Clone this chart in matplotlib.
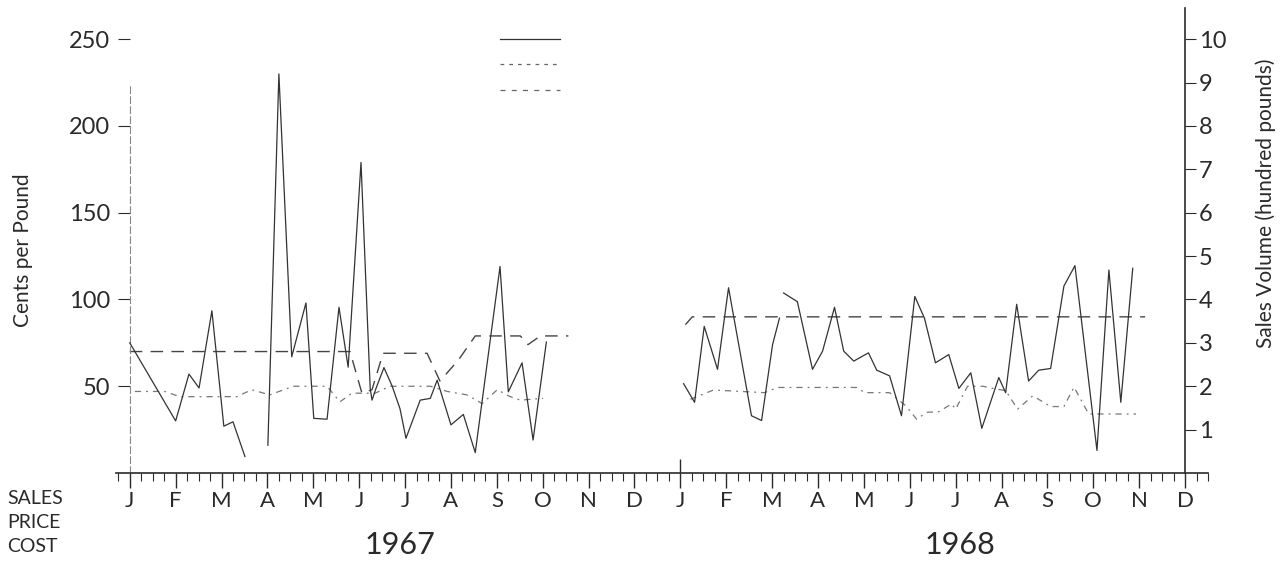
import numpy as np
import matplotlib.pyplot as plt
from matplotlib.ticker import MultipleLocator
from matplotlib.lines import Line2D

plt.rcParams['font.family'] = ['Lato', 'DejaVu Sans']

# x values are months since 1 Jan 1967
# sales volume, hundred pounds (right axis)
sales_x = [0.0, 1.0, 1.29, 1.51, 1.79, 2.05, 2.25, 2.51, 2.75, 3.01, 3.25, 3.53, 3.84,
           4.01, 4.30, 4.56, 4.76, 5.04, 5.24, 5.28, 5.37, 5.54, 5.72, 5.89, 6.02,
           6.33, 6.55, 6.70, 7.00, 7.27, 7.53, 8.07, 8.25, 8.55, 8.79, 9.08,
           10.5,
           12.07, 12.31, 12.52, 12.81, 13.05, 13.55, 13.77, 14.01, 14.16, 14.2,
           14.25, 14.55, 14.88, 15.10, 15.36, 15.56, 15.78, 16.10, 16.28, 16.56,
           16.82, 17.11, 17.32, 17.56, 17.85, 18.07, 18.33, 18.57, 18.94, 19.09,
           19.33, 19.59, 19.81, 20.07, 20.36, 20.60, 21.08, 21.34, 21.60, 21.86]
sales = [3.0, 1.2, 2.28, 1.96, 3.74, 1.08, 1.18, 0.38, np.nan, 0.64, 9.2, 2.68, 3.92,
         1.26, 1.24, 3.82, 2.44, 7.16, 1.95, 1.68, 1.96, 2.43, 2.0, 1.48, 0.8,
         1.68, 1.72, 2.14, 1.11, 1.35, 0.47, 4.76, 1.87, 2.54, 0.76, 3.02,
         np.nan,
         2.06, 1.63, 3.38, 2.39, 4.27, 1.32, 1.21, 2.96, 3.57, np.nan,
         4.15, 3.95, 2.39, 2.81, 3.82, 2.81, 2.58, 2.77, 2.37, 2.24,
         1.32, 4.07, 3.57, 2.54, 2.73, 1.95, 2.31, 1.03, 2.2, 1.85,
         3.89, 2.12, 2.37, 2.41, 4.31, 4.78, 0.52, 4.68, 1.63, 4.72]

# upper dashed series, cents per pound
upper_x = [0.0, 4.80, 5.06, 5.28, 5.52, 6.48, 6.76, 7.16, 7.53, 8.51, 8.68, 8.95, 9.56,
           10.5,
           12.11, 12.26, 22.13]
upper = [70, 70, 46, 48, 69, 69, 53, 65, 79, 79, 74, 79, 79,
         np.nan,
         85.5, 90, 90]

# lower dash-dot series, cents per pound
lower_x = [0.11, 0.76, 1.09, 2.33, 2.66, 3.05, 3.56, 4.30, 4.58, 4.84, 5.35, 5.67,
           6.55, 6.92, 7.35, 7.68, 8.01, 8.29, 8.51, 9.01,
           10.5,
           12.22, 12.72, 13.11, 13.83, 14.12, 15.84, 16.02, 16.56, 16.91, 17.15,
           17.37, 17.63, 17.91, 18.00, 18.26, 18.59, 18.90, 19.09, 19.35, 19.68,
           20.07, 20.36, 20.58, 20.90, 21.93]
lower = [47, 47, 44, 44, 48, 45, 50, 50, 41, 46, 46, 50,
         50, 47, 45, 40, 48, 44, 42, 43,
         np.nan,
         42.5, 47.8, 47.3, 46.3, 49.3, 49.3, 46.3, 46.3, 38.8, 31,
         35, 35.3, 39.8, 36.8, 50, 50, 48.3, 47.5, 36.8, 44.5,
         38.3, 38.3, 49.5, 34, 34]

month_labels = list('JFMAMJJASOND') * 2
left_ticks = [50, 100, 150, 200, 250]
right_ticks = list(range(1, 11))

ink = '#2a2a2a'
fig = plt.figure(figsize=(12.84, 5.68), dpi=100)
ax = fig.add_axes([116 / 1284, 95 / 568, 1092 / 1284, 465 / 568])
ax2 = ax.twinx()

ax.set_xlim(-0.3, 23.5)
ax.set_ylim(0, 268)
ax2.set_ylim(0, 268 / 25)

ax.plot(upper_x, upper, color='#444444', lw=1.0, dashes=(9, 6))
ax.plot(lower_x, lower, color='#777777', lw=0.9, dashes=(5, 4, 1.5, 4))
ax2.plot(sales_x, sales, color='#333333', lw=0.9)

# spines
for s in ['top', 'right']:
    ax.spines[s].set_visible(False)
for s in ['top', 'left', 'bottom']:
    ax2.spines[s].set_visible(False)
ax.spines['left'].set_position(('data', 0))
ax.spines['left'].set_bounds(0, 225)
ax.spines['left'].set_linestyle((0, (6, 3)))
ax.spines['left'].set_color('#888888')
ax.spines['left'].set_linewidth(0.8)
ax.spines['bottom'].set_color(ink)
ax.spines['bottom'].set_linewidth(1.2)
ax2.spines['right'].set_position(('data', 23))
ax2.spines['right'].set_color(ink)
ax2.spines['right'].set_linewidth(1.2)

# x ticks
ax.set_xticks(range(24))
ax.set_xticklabels(month_labels)
ax.xaxis.set_minor_locator(MultipleLocator(0.25))
ax.tick_params(axis='x', which='major', direction='out', length=11, width=1,
               color=ink, labelsize=16, pad=2, labelcolor=ink)
ax.tick_params(axis='x', which='minor', direction='out', length=6, width=0.8, color=ink)
ax.vlines(12, 0, 8, color=ink, lw=1)

# y ticks
ax.set_yticks(left_ticks)
ax.tick_params(axis='y', direction='out', length=9, width=0.8, color=ink,
               labelsize=17, pad=5, labelcolor=ink)
ax2.set_yticks(right_ticks)
ax2.tick_params(axis='y', direction='out', length=8, width=0.8, color=ink,
                labelsize=17, pad=2, labelcolor=ink)

ax.set_ylabel('Cents per Pound', fontsize=15, color=ink)
ax.yaxis.set_label_coords(-0.076, 0.48, transform=ax.transAxes)
ax2.set_ylabel('Sales Volume (hundred pounds)', fontsize=15, color=ink)
ax2.yaxis.set_label_coords(1.043, 0.58, transform=ax.transAxes)

# year labels and series names
ax.text(5.88, -0.155, '1967', transform=ax.get_xaxis_transform(),
        ha='center', va='center', fontsize=22, color=ink)
ax.text(18.1, -0.155, '1968', transform=ax.get_xaxis_transform(),
        ha='center', va='center', fontsize=22, color=ink)
for i, name in enumerate(['SALES', 'PRICE', 'COST']):
    fig.text(7 / 1284, 1 - (498 + 24 * i) / 568, name, ha='left', va='center',
             fontsize=14, color=ink)

# unlabelled key at top
handles = [Line2D([], [], color='#333333', lw=0.9),
           Line2D([], [], color='#666666', lw=0.9, dashes=(3, 4)),
           Line2D([], [], color='#666666', lw=0.9, dashes=(4, 5))]
fig.legend(handles, ['', '', ''], loc='upper left',
           bbox_to_anchor=(500 / 1284, 1 - 32 / 568), frameon=False,
           fontsize=14, handlelength=3.1, handletextpad=0, borderpad=0,
           borderaxespad=0, labelspacing=0.42)

fig.savefig('out.png', dpi=100)
